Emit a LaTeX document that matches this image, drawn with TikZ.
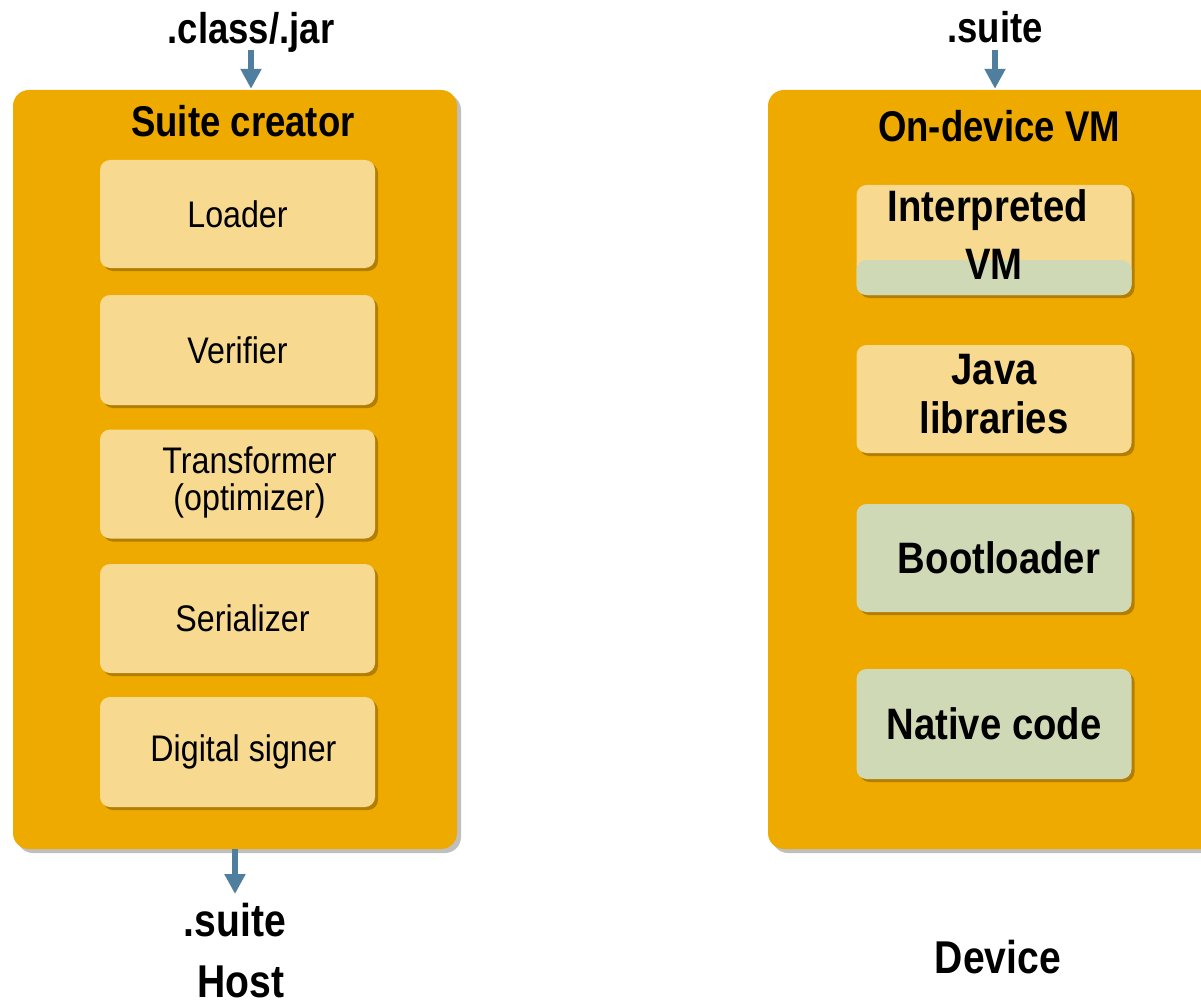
\documentclass[tikz,border=0pt]{standalone}
\usepackage{fontspec}
\setmainfont{Liberation Sans}
\usetikzlibrary{shadows,arrows.meta}
\definecolor{orng}{HTML}{EFAA00}
\definecolor{pale}{HTML}{F7D98F}
\definecolor{sage}{HTML}{CFD9B6}
\definecolor{arrc}{HTML}{4F7E9E}
\definecolor{ishadow}{HTML}{9A6A00}
\newcommand{\sqz}[2][0.87]{\scalebox{#1}[1]{#2}}
\begin{document}
\begin{tikzpicture}[x=1pt,y=-1pt,
  outerbox/.style={fill=orng, rounded corners=16pt, minimum width=#1, minimum height=759pt, inner sep=0pt,
    drop shadow={shadow xshift=4pt, shadow yshift=-4pt, fill=black, opacity=0.25}},
  innerbox/.style={fill=pale, rounded corners=10pt, minimum width=275pt, minimum height=#1, inner sep=0pt, align=center,
    drop shadow={shadow xshift=3pt, shadow yshift=-3pt, fill=ishadow, opacity=0.7}},
  plainlbl/.style={font=\fontsize{37}{36}\selectfont},
  boldlbl/.style={font=\fontsize{44}{52}\selectfont\bfseries},
  headlbl/.style={font=\fontsize{43}{46}\selectfont\bfseries, anchor=base, inner sep=0pt},
  footlbl/.style={font=\fontsize{46}{50}\selectfont\bfseries, anchor=base, inner sep=0pt},
  flow/.style={draw=arrc, line width=6pt, -{Triangle[width=20pt,length=20pt]}, shorten >=1pt}
]
\useasboundingbox (0,0) rectangle (1201,1008);
\fill[white] (0,0) rectangle (1201,1008);

% outer boxes
\node[outerbox=444pt] (host) at (235,469.5) {};
\node[outerbox=462pt] (dev) at (999,469.5) {};

% headings
\node[headlbl] (hin) at (251,44) {\sqz[0.85]{.class/.jar}};
\node[headlbl] (din) at (995,43) {\sqz[0.85]{.suite}};
\node[headlbl] (htitle) at (243,137) {\sqz[0.85]{Suite creator}};
\node[headlbl] (dtitle) at (999,142) {\sqz[0.85]{On-device VM}};
\node[footlbl] (hout) at (235,936) {\sqz[0.85]{.suite}};
\node[footlbl] (hostlbl) at (241,997) {\sqz[0.85]{Host}};
\node[footlbl] (devlbl) at (998,973) {\sqz[0.85]{Device}};

% host inner boxes
\node[innerbox=108pt, plainlbl] (loader) at (237.5,214) {\sqz{Loader}};
\node[innerbox=110pt, plainlbl] (verif) at (237.5,350) {\sqz{Verifier}};
\node[innerbox=109pt, plainlbl] (trans) at (237.5,484) {\hspace*{24pt}\raisebox{-4pt}{\sqz{\begin{tabular}{@{}c@{}}Transformer\\[-1pt](optimizer)\end{tabular}}}};
\node[innerbox=109pt, plainlbl] (serial) at (237.5,618.5) {\hspace*{10pt}\sqz{Serializer}};
\node[innerbox=110pt, plainlbl] (signer) at (237.5,752) {\hspace*{12pt}\sqz{Digital signer}};

% device inner boxes
\node[innerbox=110pt, boldlbl,
  path picture={\fill[sage] ([yshift=35pt]path picture bounding box.south west) rectangle (path picture bounding box.south east);}]
  (interp) at (994,240) {\raisebox{-2pt}{\sqz{\begin{tabular}{@{}c@{}}Interpreted\hspace*{14pt}\\[6pt]VM\end{tabular}}}};
\node[innerbox=108pt, boldlbl] (javalib) at (994,399) {\raisebox{-2pt}{\sqz{\begin{tabular}{@{}c@{}}Java\\[-3pt]libraries\end{tabular}}}};
\node[innerbox=108pt, boldlbl, fill=sage] (boot) at (994,558) {\hspace*{10pt}\sqz{Bootloader}};
\node[innerbox=110pt, boldlbl, fill=sage] (native) at (994,724) {\sqz{Native code}};

% arrows
\draw[flow] (hin.south |- 0,50) -- (hin.south |- host.north);
\draw[flow] (din.south |- 0,50) -- (din.south |- dev.north);
\draw[flow] (host.south) -- (hout.north |- 0,895);
\end{tikzpicture}
\end{document}
